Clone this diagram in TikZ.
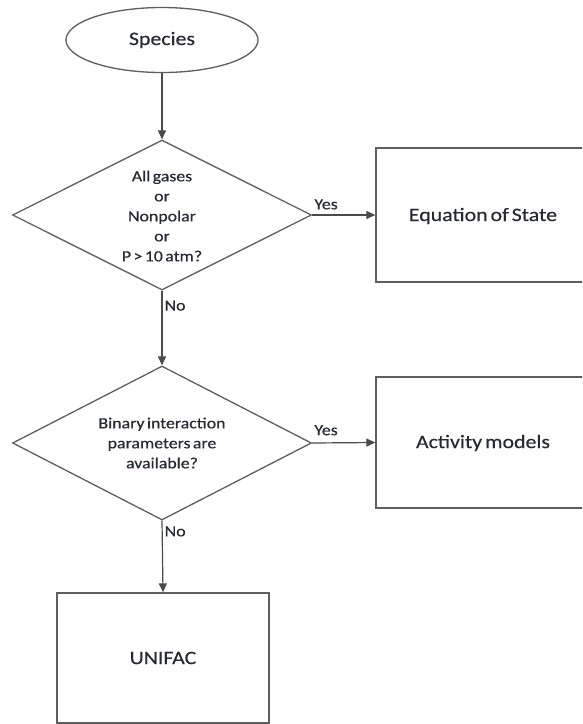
\documentclass[tikz,border=0pt]{standalone}
\usepackage{fontspec}
\setmainfont{Carlito}[FakeStretch=1.15, WordSpace=0.6, FakeBold=0.4]
\usetikzlibrary{shapes.geometric,arrows.meta}
\definecolor{linegray}{HTML}{5E5E5E}
\definecolor{txt}{HTML}{262B33}
\tikzset{
  outline/.style={draw=linegray, line width=1.3pt},
  boxnode/.style={outline, rectangle, inner sep=0pt},
  bigtext/.style={text=txt, font=\fontsize{19}{22}\selectfont, inner sep=0pt},
  smalltext/.style={text=txt, font=\fontsize{15.5}{20}\selectfont, inner sep=0pt, align=center},
  conn/.style={draw=linegray!80!black, line width=1.2pt, -{Triangle[length=9pt,width=8pt]}},
}
\begin{document}
\begin{tikzpicture}[x=1pt,y=-1pt]
\useasboundingbox (0,0) rectangle (582,724);
\clip (0,0) rectangle (582,724);
\fill[white] (0,0) rectangle (582,724);

\node[outline, ellipse, minimum width=192pt, minimum height=65pt, inner sep=0pt] (species) at (162,40) {};
\node[bigtext] (speciesT) at (162,40) {Species};

\node[outline, diamond, minimum width=299pt, minimum height=150pt, inner sep=0pt] (d1) at (162,215) {};
\node[smalltext] (d1T) at (162,216) {All gases\\or\\Nonpolar\\or\\P > 10 atm?};

\node[boxnode, minimum width=214pt, minimum height=134pt] (eos) at (483,215) {};
\node[bigtext] (eosT) at (483,216) {Equation of State};

\node[outline, diamond, minimum width=299pt, minimum height=154pt, inner sep=0pt] (d2) at (162,443) {};
\node[smalltext] (d2T) at (162,443) {Binary interaction\\parameters are\\available?};

\node[boxnode, minimum width=214pt, minimum height=131pt] (act) at (483,442.5) {};
\node[bigtext] (actT) at (483,443) {Activity models};

\node[boxnode, minimum width=212pt, minimum height=130pt] (unifac) at (163,658) {};
\node[bigtext] (unifacT) at (163,658) {UNIFAC};

\draw[conn] (species.south) -- (d1.north);
\draw[conn] (d1.east) -- node[smalltext, pos=0.22, above=5pt] (yes1) {Yes} (eos.west);
\draw[conn] (d1.south) -- node[smalltext, pos=0.2, right=2pt] (no1) {No} (d2.north);
\draw[conn] (d2.east) -- node[smalltext, pos=0.22, above=7pt] (yes2) {Yes} (act.west);
\draw[conn] (d2.south) -- node[smalltext, pos=0.15, right=2pt] (no2) {No} (unifac.north);
\end{tikzpicture}
\end{document}
